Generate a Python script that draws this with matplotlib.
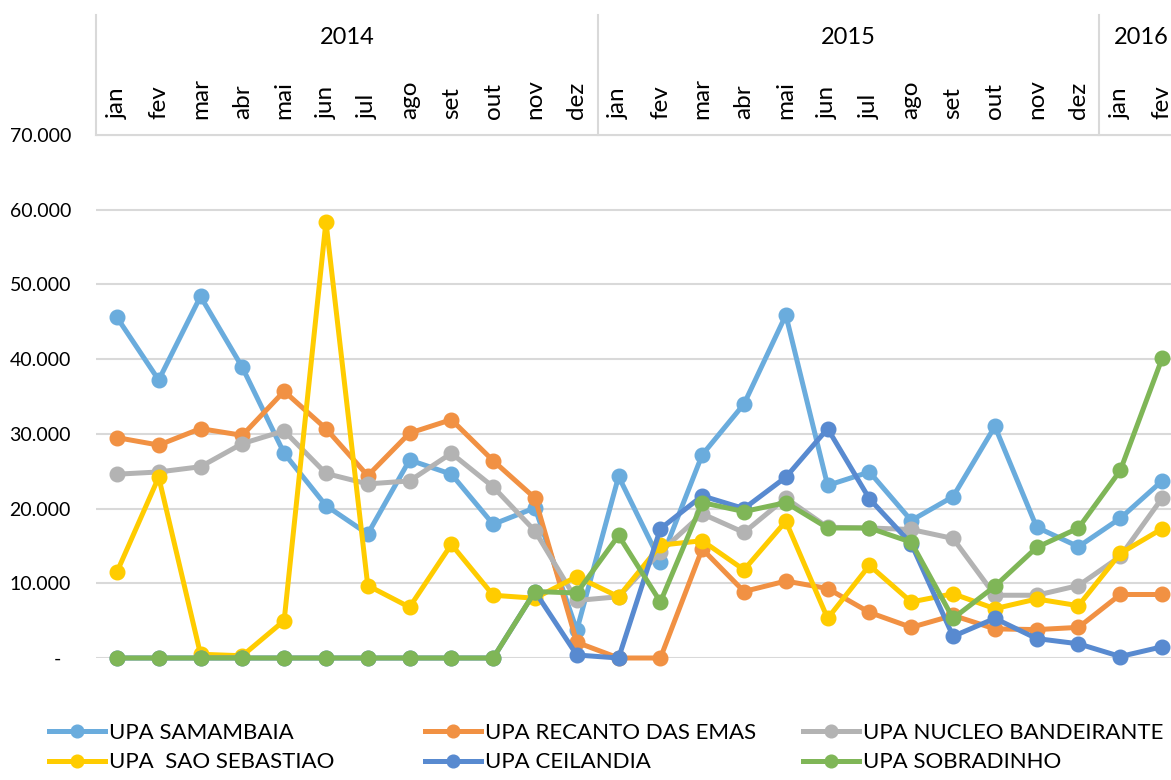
import matplotlib.pyplot as plt
import matplotlib.transforms as mtransforms
from matplotlib.ticker import FuncFormatter

plt.rcParams['font.family'] = ['Lato', 'DejaVu Sans']

# categories
months = ['jan', 'fev', 'mar', 'abr', 'mai', 'jun', 'jul', 'ago', 'set', 'out', 'nov', 'dez']
month_labels = months + months + ['jan', 'fev']
years = ['2014', '2015', '2016']
year_sizes = [12, 12, 2]

# monthly counts per UPA
samambaia = [45600, 37200, 48400, 38900, 27400, 20400, 16600, 26500, 24600, 17900, 20100, 3700,
             24300, 12900, 27200, 34000, 45900, 23100, 24900, 18400, 21600, 31000, 17500, 14900, 18700, 23700]
recanto = [29500, 28500, 30700, 29800, 35700, 30700, 24400, 30100, 31900, 26400, 21400, 2100,
           0, 0, 14600, 8900, 10300, 9300, 6100, 4100, 5700, 3900, 3800, 4100, 8500, 8500]
nucleo = [24600, 24900, 25600, 28700, 30400, 24700, 23300, 23700, 27400, 22900, 17000, 7700,
          8200, 14200, 19300, 16800, 21400, 17500, 17400, 17200, 16000, 8400, 8400, 9700, 13600, 21400]
sao_sebastiao = [11500, 24200, 500, 300, 5000, 58400, 9700, 6800, 15200, 8400, 8000, 10900,
                 8200, 15100, 15700, 11800, 18300, 5300, 12400, 7500, 8600, 6600, 7900, 7000, 14000, 17300]
ceilandia = [0, 0, 0, 0, 0, 0, 0, 0, 0, 0, 8900, 400,
             0, 17300, 21700, 20000, 24200, 30700, 21300, 15300, 2900, 5300, 2600, 1900, 200, 1500]
sobradinho = [0, 0, 0, 0, 0, 0, 0, 0, 0, 0, 8900, 8700,
              16400, 7500, 20800, 19600, 20800, 17400, 17400, 15500, 5300, 9600, 14800, 17400, 25100, 40100]

names = ['UPA SAMAMBAIA', 'UPA RECANTO DAS EMAS', 'UPA NUCLEO BANDEIRANTE',
         'UPA  SAO SEBASTIAO', 'UPA CEILANDIA', 'UPA SOBRADINHO']
series = [samambaia, recanto, nucleo, sao_sebastiao, ceilandia, sobradinho]
colors = ['#6AACDD', '#F19143', '#B3B3B3', '#FFCC00', '#588AD0', '#7FB657']

fig = plt.figure(figsize=(11.71, 7.8), dpi=100)
ax = fig.add_axes([96 / 1171, 122 / 780, 1087 / 1171, 523 / 780])

x = list(range(len(month_labels)))
lines = []
for vals, name, c in zip(series, names, colors):
    ln, = ax.plot(x, vals, color=c, lw=3.6, marker='o', markersize=10.5,
                  label=name, solid_joinstyle='round', clip_on=False)
    lines.append(ln)

ax.set_xlim(-0.5, len(month_labels) - 0.5)
ax.set_ylim(0, 70000)
ax.set_yticks(range(0, 70001, 10000))
ax.yaxis.set_major_formatter(FuncFormatter(
    lambda v, _: '-  ' if v == 0 else f'{int(v):,}'.replace(',', '.')))
ax.tick_params(axis='y', length=0, pad=18, labelsize=14, labelcolor='black')
ax.set_xticks([])
ax.yaxis.grid(True, color='#D9D9D9', lw=1.5)
ax.set_axisbelow(True)
for s in ['left', 'right', 'bottom']:
    ax.spines[s].set_visible(False)
ax.spines['top'].set_color('#D9D9D9')
ax.spines['top'].set_linewidth(1.5)

# two-level category axis on top
trans = mtransforms.blended_transform_factory(ax.transData, ax.transAxes)
for i, m in enumerate(month_labels):
    ax.text(i, 1.03, m, transform=trans, rotation=90, ha='center', va='bottom',
            fontsize=17.5, clip_on=False)
start = 0
for yr, n in zip(years, year_sizes):
    ax.text(start + (n - 1) / 2, 1.187, yr, transform=trans, ha='center', va='center',
            fontsize=17, clip_on=False)
    ax.plot([start - 0.5, start - 0.5], [1.0, 1.23], transform=trans,
            color='#D9D9D9', lw=1.5, clip_on=False)
    start += n

# legend: three columns of two
col_x = [49, 425, 803]
for k in range(3):
    fig.legend([lines[k], lines[k + 3]], [names[k], names[k + 3]],
               loc='upper left', bbox_to_anchor=(col_x[k] / 1171, 57 / 780),
               frameon=False, fontsize=16, handlelength=2.5, handletextpad=0.18,
               borderpad=0, borderaxespad=0, labelspacing=0.42, markerscale=0.87)

fig.savefig('out.png', dpi=100)
